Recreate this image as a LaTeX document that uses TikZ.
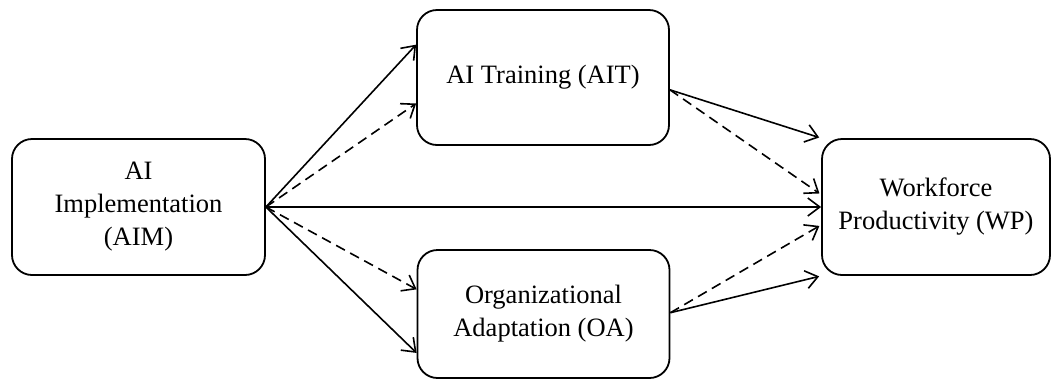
\documentclass[tikz,border=0pt]{standalone}
\usepackage{fontspec}
\setmainfont{Liberation Serif}
\usepackage{tikz}
\usetikzlibrary{arrows.meta,calc,positioning}

\begin{document}
\begin{tikzpicture}[
  x=0.5pt, y=-0.5pt,
  font=\fontsize{13.25}{16.5}\selectfont,
  var/.style={rounded corners=10pt, draw=black, line width=0.9pt, inner sep=4pt, align=center},
  arr/.style={-{Straight Barb[length=6pt,width=9pt]}, line width=0.8pt},
  ind/.style={arr, dash pattern=on 5pt off 3pt},
]
  \useasboundingbox (0,0) rectangle (1061,381);

  \node[var, minimum width=126.5pt, minimum height=68pt] (aim) at (138.5,207) {AI\\Implementation\\(AIM)};
  \node[var, minimum width=126pt, minimum height=67.5pt] (ait) at (543,77.5) {AI Training (AIT)};
  \node[var, minimum width=126pt, minimum height=64pt] (oa) at (543.5,314) {Organizational\\Adaptation (OA)};
  \node[var, minimum width=114pt, minimum height=68pt] (wp) at (936,207) {Workforce\\Productivity (WP)};

  \draw[arr] (aim.east) -- ($(ait.north west)!0.26!(ait.south west)$);
  \draw[ind] (aim.east) -- ($(ait.north west)!0.69!(ait.south west)$);
  \draw[arr] (aim.east) -- (wp.west);
  \draw[ind] (aim.east) -- ($(oa.north west)!0.31!(oa.south west)$);
  \draw[arr] (aim.east) -- ($(oa.north west)!0.80!(oa.south west)$);

  \draw[arr, shorten >=1pt] ($(ait.north east)!0.59!(ait.south east)$) -- (wp.north west);
  \draw[ind, shorten >=1pt] ($(ait.north east)!0.59!(ait.south east)$) -- ($(wp.north west)!0.41!(wp.south west)$);
  \draw[ind, shorten >=1pt] ($(oa.north east)!0.49!(oa.south east)$) -- ($(wp.north west)!0.63!(wp.south west)$);
  \draw[arr, shorten >=1pt] ($(oa.north east)!0.49!(oa.south east)$) -- (wp.south west);
\end{tikzpicture}
\end{document}
